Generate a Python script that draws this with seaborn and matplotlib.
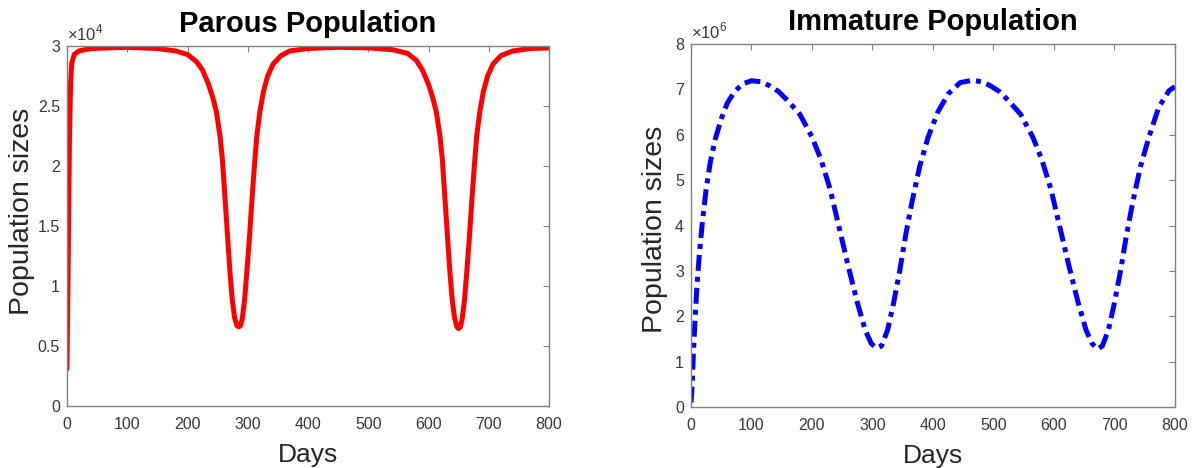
#!/usr/bin/env python3
import pandas as pd
import matplotlib
matplotlib.use("Agg")
import matplotlib.pyplot as plt
import seaborn as sns
from matplotlib.ticker import FuncFormatter, MultipleLocator

# ===== DATA =====
# Parous population (individuals), days 0..800
PAROUS_DAYS = [0, 2, 4, 6, 8, 12, 20, 40, 100, 150, 180, 200, 215, 225, 235, 242,
               248, 254, 258, 262, 266, 270, 274, 278, 282, 285, 288, 291, 295,
               299, 303, 307, 311, 315, 320, 326, 333, 342, 355, 370, 400, 450,
               500, 540, 565, 580, 590, 600, 607, 613, 619, 623, 627, 631, 635,
               639, 643, 647, 650, 653, 656, 660, 664, 668, 672, 676, 680, 685,
               691, 698, 707, 720, 740, 770, 800]
PAROUS_VALS = [3100, 12000, 22000, 27000, 28600, 29300, 29600, 29800, 29900,
               29800, 29600, 29300, 28700, 28000, 26800, 25700, 24500, 22500,
               20500, 17500, 14500, 11500, 9000, 7400, 6700, 6600, 6700, 7300,
               9000, 11500, 14200, 17200, 20000, 22500, 24500, 26200, 27500,
               28500, 29200, 29600, 29800, 29900, 29850, 29700, 29400, 28800,
               28000, 26800, 25700, 24500, 22500, 20500, 17500, 14500, 11500,
               9000, 7400, 6600, 6450, 6600, 7300, 9000, 11500, 14200, 17200,
               20000, 22500, 24500, 26200, 27500, 28500, 29200, 29600, 29800,
               29850]

# Immature population (individuals), days 0..800
IMM_DAYS = [0, 2, 4, 7, 10, 14, 19, 25, 32, 40, 50, 60, 72, 85, 100, 115, 130,
            145, 160, 180, 200, 215, 230, 245, 260, 275, 288, 298, 307, 315,
            325, 335, 345, 355, 365, 378, 392, 408, 425, 445, 465, 480, 495,
            510, 525, 545, 565, 580, 595, 610, 625, 640, 653, 663, 672, 680,
            690, 700, 710, 720, 730, 743, 757, 773, 790, 800]
IMM_VALS = [0.1e6, 0.5e6, 1.2e6, 2.0e6, 2.7e6, 3.4e6, 4.1e6, 4.8e6, 5.4e6,
            5.9e6, 6.35e6, 6.7e6, 6.95e6, 7.12e6, 7.19e6, 7.17e6, 7.08e6,
            6.95e6, 6.75e6, 6.45e6, 5.95e6, 5.45e6, 4.8e6, 3.95e6, 3.1e6,
            2.3e6, 1.7e6, 1.4e6, 1.3e6, 1.35e6, 1.7e6, 2.3e6, 3.0e6, 3.8e6,
            4.5e6, 5.3e6, 5.95e6, 6.5e6, 6.9e6, 7.15e6, 7.2e6, 7.17e6, 7.08e6,
            6.95e6, 6.75e6, 6.45e6, 5.95e6, 5.45e6, 4.8e6, 3.95e6, 3.1e6,
            2.3e6, 1.7e6, 1.4e6, 1.28e6, 1.35e6, 1.7e6, 2.3e6, 3.0e6, 3.8e6,
            4.5e6, 5.3e6, 5.95e6, 6.6e6, 6.97e6, 7.06e6]

X_TICKS = list(range(0, 801, 100))

# ===== STYLE =====
sns.set_style("white")
plt.rcParams["font.family"] = ["Liberation Sans", "DejaVu Sans"]
plt.rcParams["mathtext.fontset"] = "custom"
plt.rcParams["mathtext.rm"] = "Liberation Sans"

AX_COLOR = "#808080"
TXT_COLOR = "#383838"


def style_axes(ax, ymax, ystep, scale, exp, ylab_xy):
    ax.set_xlim(0, 800)
    ax.set_ylim(0, ymax)
    ax.set_xticks(X_TICKS)
    ax.yaxis.set_major_locator(MultipleLocator(ystep))
    ax.yaxis.set_major_formatter(FuncFormatter(lambda v, _: f"{v / scale:g}"))
    for sp in ax.spines.values():
        sp.set_visible(True)
        sp.set_color(AX_COLOR)
        sp.set_linewidth(1.0)
    ax.tick_params(direction="in", length=4, width=0.8, color=AX_COLOR,
                   labelsize=11.5, labelcolor=TXT_COLOR, top=True, right=True)
    ax.tick_params(axis="x", pad=8)
    ax.tick_params(axis="y", pad=5)
    ax.text(0.0, 1.008, r"$\times$10$^{%d}$" % exp, transform=ax.transAxes,
            ha="left", va="bottom", fontsize=12, color=TXT_COLOR)
    ax.set_xlabel("Days", fontsize=19, color="#262626", labelpad=8)
    ax.set_ylabel("Population sizes", fontsize=20.5, color="#262626",
                  va="center")
    ax.yaxis.set_label_coords(*ylab_xy)


fig = plt.figure(figsize=(11.92, 4.68), dpi=100)
ax1 = fig.add_axes([0.0562, 0.1325, 0.4044, 0.769])
ax2 = fig.add_axes([0.5797, 0.130, 0.406, 0.776])

parous = pd.DataFrame({"day": PAROUS_DAYS, "pop": PAROUS_VALS})
imm = pd.DataFrame({"day": IMM_DAYS, "pop": IMM_VALS})

sns.lineplot(data=parous, x="day", y="pop", ax=ax1, color="#ff0000",
             linewidth=3.6, estimator=None)
sns.lineplot(data=imm, x="day", y="pop", ax=ax2, color="#0000ff",
             linewidth=3.6, estimator=None, linestyle=(0, (3.2, 1.2, 1, 1.2)))

style_axes(ax1, 3e4, 0.5e4, 1e4, 4, (-0.094, 0.54))
style_axes(ax2, 8e6, 1e6, 1e6, 6, (-0.074, 0.49))

ax1.set_title("Parous Population", fontsize=21, fontweight="bold",
              color="black", pad=10)
ax2.set_title("Immature Population", fontsize=21, fontweight="bold",
              color="black", pad=10)

fig.savefig("out.png", dpi=100)
